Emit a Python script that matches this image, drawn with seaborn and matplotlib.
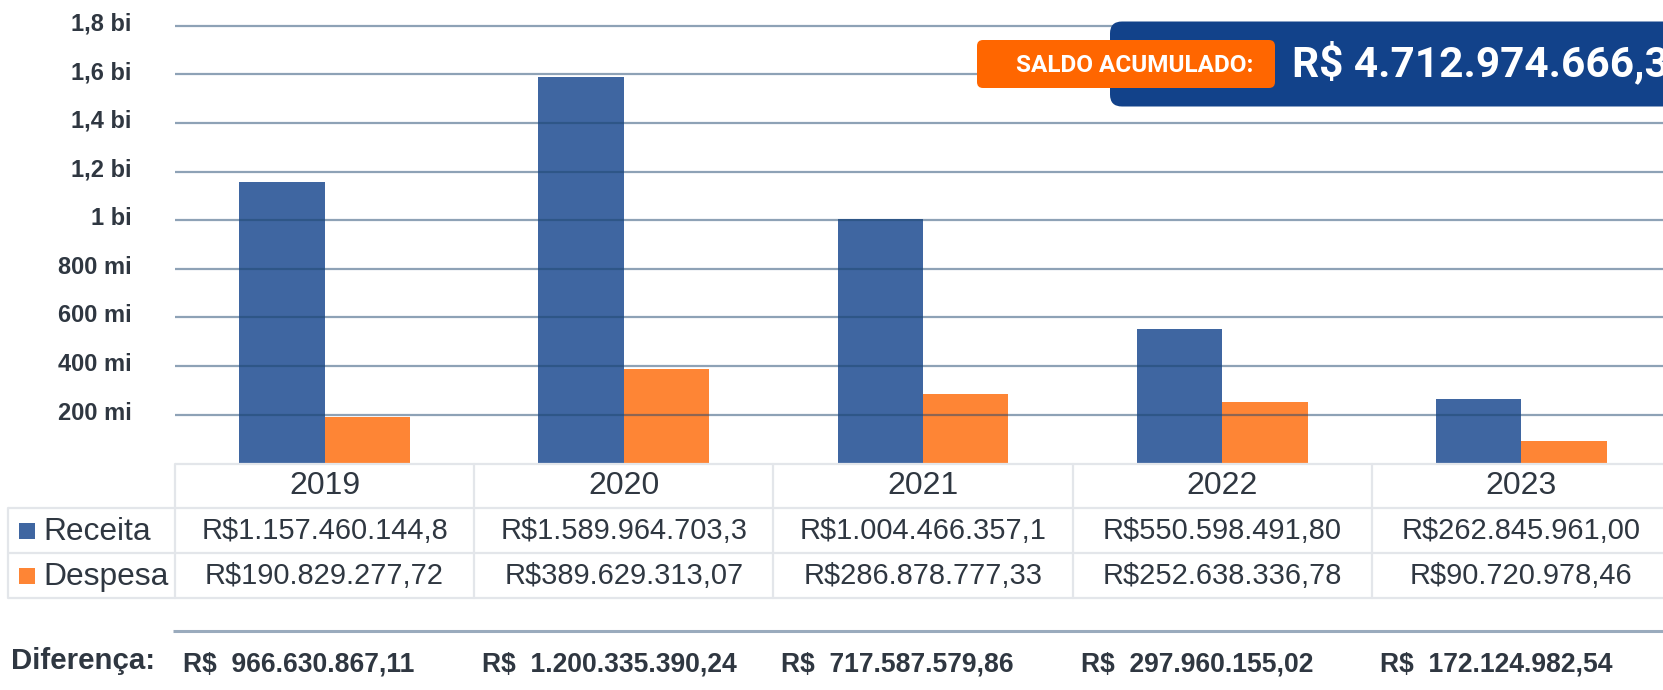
import numpy as np
import pandas as pd
import matplotlib
matplotlib.use("Agg")
import matplotlib.pyplot as plt
import seaborn as sns
from matplotlib.patches import FancyBboxPatch, Rectangle
from matplotlib.transforms import ScaledTranslation
from matplotlib.ticker import FixedLocator, FuncFormatter

# ---------------- data ----------------
anos = ["2019", "2020", "2021", "2022", "2023"]
receita = [1157460144.80, 1589964703.30, 1004466357.10, 550598491.80, 262845961.00]
despesa = [190829277.72, 389629313.07, 286878777.33, 252638336.78, 90720978.46]
receita_txt = ["R$1.157.460.144,8", "R$1.589.964.703,3", "R$1.004.466.357,1",
               "R$550.598.491,80", "R$262.845.961,00"]
despesa_txt = ["R$190.829.277,72", "R$389.629.313,07", "R$286.878.777,33",
               "R$252.638.336,78", "R$90.720.978,46"]
diferenca_txt = ["R$  966.630.867,11", "R$  1.200.335.390,24", "R$  717.587.579,86",
                 "R$  297.960.155,02", "R$  172.124.982,54"]
series = ["Receita", "Despesa"]
ytick_vals = [200e6, 400e6, 600e6, 800e6, 1.0e9, 1.2e9, 1.4e9, 1.6e9, 1.8e9]
ytick_txt = ["200 mi", "400 mi", "600 mi", "800 mi", "1 bi", "1,2 bi", "1,4 bi", "1,6 bi", "1,8 bi"]
saldo_label = "SALDO ACUMULADO:"
saldo_valor = "R$ 4.712.974.666,3"

# ---------------- style ----------------
sns.set_theme(style="white")
plt.rcParams["font.family"] = ["Liberation Sans", "DejaVu Sans"]

BLUE = "#3f66a1"
ORANGE = "#fe8535"
TXT = "#2f3741"
BORDER = "#e3e6ea"

W, H = 1663, 690
fig = plt.figure(figsize=(W / 100, H / 100), dpi=100)
fig.patch.set_facecolor("white")

# main bar axes (pixel geometry)
x0 = 175
cat_w = 299.2
y_base = 463.3
px_per_200 = 48.625
ymax = 1.9e9
ax_h = ymax / 200e6 * px_per_200
ax = fig.add_axes([x0 / W, (H - y_base) / H, 5 * cat_w / W, ax_h / H])

df = pd.DataFrame({
    "Ano": anos * 2,
    "Tipo": [series[0]] * 5 + [series[1]] * 5,
    "Valor": receita + despesa,
})
sns.barplot(data=df, x="Ano", y="Valor", hue="Tipo", order=anos, hue_order=series,
            palette=[BLUE, ORANGE], width=0.5715, saturation=1, linewidth=0,
            legend=False, ax=ax)

ax.set_xlim(-0.5, 4.5)
ax.set_ylim(0, ymax)
ax.yaxis.set_major_locator(FixedLocator(ytick_vals))
ax.yaxis.set_major_formatter(FuncFormatter(lambda v, p: ytick_txt[ytick_vals.index(v)] if v in ytick_vals else ""))
ax.set_axisbelow(False)
ax.yaxis.grid(True, color="#1f476f", alpha=0.5, linewidth=1.6)
ax.xaxis.grid(False)
for s in ax.spines.values():
    s.set_visible(False)
ax.set_xticks([])
ax.set_xlabel("")
ax.set_ylabel("")
ax.tick_params(axis="y", length=0, pad=31.2, labelsize=17, labelcolor=TXT)
for lab in ax.get_yticklabels():
    lab.set_fontweight("bold")
    lab.set_transform(lab.get_transform() + ScaledTranslation(0, 4 / 100, fig.dpi_scale_trans))

# overlay axes in pixel coordinates
ov = fig.add_axes([0, 0, 1, 1])
ov.set_xlim(0, W)
ov.set_ylim(H, 0)
ov.axis("off")
ov.patch.set_alpha(0)

# table lines
col_edges = [x0 + i * cat_w for i in range(6)]
right_end = W + 20
lw_b = 1.6
ov.plot([x0, right_end], [463.5, 463.5], color=BORDER, lw=lw_b, solid_capstyle="butt")
for yy in [508, 553, 598]:
    ov.plot([8, right_end], [yy, yy], color=BORDER, lw=lw_b, solid_capstyle="butt")
ov.plot([8, 8], [508, 598], color=BORDER, lw=lw_b)
for xe in col_edges:
    ov.plot([xe, xe], [463.5, 598], color=BORDER, lw=lw_b)

for i, ano in enumerate(anos):
    cx = x0 + (i + 0.5) * cat_w
    ov.text(cx, 486, ano, ha="center", va="center", fontsize=23, color=TXT)
    ov.text(cx, 531, receita_txt[i], ha="center", va="center", fontsize=20.9, color=TXT)
    ov.text(cx, 576, despesa_txt[i], ha="center", va="center", fontsize=20.9, color=TXT)
    ov.text(col_edges[i] + 8, 665, diferenca_txt[i], ha="left", va="center",
            fontsize=19.1, fontweight="bold", color=TXT)

# legend entries in table
for (yy, name, col) in [(530.5, series[0], BLUE), (575.5, series[1], ORANGE)]:
    ov.add_patch(Rectangle((19, yy - 8), 16, 16, facecolor=col, edgecolor="none"))
    ov.text(43, yy + 1, name, ha="left", va="center", fontsize=22.9, color=TXT)

# separator line and Diferença label
ov.plot([173, right_end], [631, 631], color="#9aabbd", lw=2.2, solid_capstyle="butt")
ov.text(11, 661, "Diferença:", ha="left", va="center", fontsize=21.2, fontweight="bold", color=TXT)

# saldo acumulado boxes
ov.add_patch(FancyBboxPatch((1110, 21.5), 620, 85, boxstyle="round,pad=0,rounding_size=12",
                            facecolor="#12428a", edgecolor="none"))
ov.add_patch(FancyBboxPatch((977, 40), 298, 48, boxstyle="round,pad=0,rounding_size=6",
                            facecolor="#ff6600", edgecolor="none"))
ov.text(1135, 65, saldo_label, ha="center", va="center", fontsize=17.5, fontweight="bold",
        color="white", family=["Roboto", "DejaVu Sans"])
ov.text(1292, 63, saldo_valor, ha="left", va="center", fontsize=30.5, fontweight="bold",
        color="white", family=["Roboto", "DejaVu Sans"])

fig.savefig("out.png", dpi=100)
